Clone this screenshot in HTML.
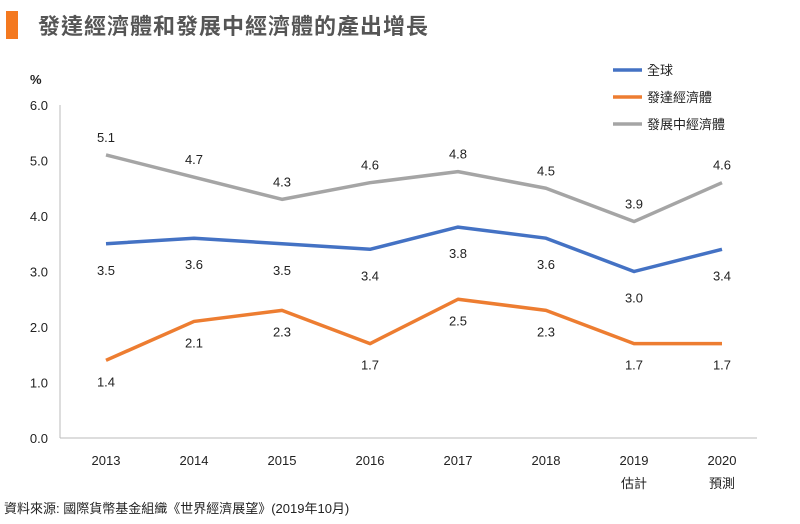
<!DOCTYPE html>
<html><head><meta charset="utf-8"><style>
body{margin:0;background:#fff;font-family:"Liberation Sans","Noto Sans CJK TC",sans-serif;}
#wrap{position:relative;width:800px;height:524px;overflow:hidden;}
</style></head><body><div id="wrap">
<div style="position:absolute;left:6px;top:11px;width:12px;height:28px;background:#f47920"></div>
<div style="position:absolute;left:38px;top:9px;font-size:22px;font-weight:bold;color:#555;letter-spacing:1px">發達經濟體和發展中經濟體的產出增長</div>
<svg id="chart" width="800" height="524" style="position:absolute;left:0;top:0"></svg>
<div style="position:absolute;left:4px;top:498px;font-size:13px;color:#222">資料來源: 國際貨幣基金組織《世界經濟展望》(2019年10月)</div>
</div>
<script>
const categories=["2013","2014","2015","2016","2017","2018","2019","2020"];
const subLabels=["","","","","","","估計","預測"];
const world=[3.5,3.6,3.5,3.4,3.8,3.6,3.0,3.4];
const advanced=[1.4,2.1,2.3,1.7,2.5,2.3,1.7,1.7];
const developing=[5.1,4.7,4.3,4.6,4.8,4.5,3.9,4.6];
const yTicks=[0,1,2,3,4,5,6];
const NS="http://www.w3.org/2000/svg";
const svg=document.getElementById('chart');
const x=i=>106+i*88;
const y=v=>438-v*55.5;
function mk(t,a){const e=document.createElementNS(NS,t);for(const k in a)e.setAttribute(k,a[k]);svg.appendChild(e);return e;}
let e;
e=mk('line',{x1:60,y1:105,x2:60,y2:438,stroke:'#bbb','stroke-width':1});


e=mk('line',{x1:60,y1:438,x2:757,y2:438,stroke:'#bbb','stroke-width':1});


e=mk('text',{x:30,y:84,'font-size':13,'font-weight':'bold',fill:'#222'});e.textContent='%';


yTicks.forEach(v=>{const t=mk('text',{x:48,y:y(v)+5,'font-size':13,fill:'#222','text-anchor':'end'});t.textContent=v.toFixed(1);

});
categories.forEach((c,i)=>{const t=mk('text',{x:x(i),y:465,'font-size':13,fill:'#222','text-anchor':'middle'});t.textContent=c;


if(subLabels[i]){const s=mk('text',{x:x(i),y:488,'font-size':13,fill:'#222','text-anchor':'middle'});s.textContent=subLabels[i];

}});
function series(data,color,name,dy){
 const p=mk('polyline',{points:data.map((v,i)=>x(i)+','+y(v)).join(' '),fill:'none',stroke:color,'stroke-width':3.5,'stroke-linejoin':'round'});
 
 
 data.forEach((v,i)=>{const t=mk('text',{x:x(i),y:y(v)+dy,'font-size':13,fill:'#222','text-anchor':'middle'});t.textContent=v.toFixed(1);
 
 });
}
series(developing,'#a5a5a5','developing',-13);
series(world,'#4472c4','world',31);
series(advanced,'#ed7d31','advanced',26);
[['全球','#4472c4',70],['發達經濟體','#ed7d31',97],['發展中經濟體','#a5a5a5',124]].forEach(([n,c,yy])=>{
 const l=mk('line',{x1:613,y1:yy,x2:642,y2:yy,stroke:c,'stroke-width':3.5});
 
 
 const t=mk('text',{x:647,y:yy+5,'font-size':13,fill:'#222'});t.textContent=n;
 
 
});
</script></body></html>
